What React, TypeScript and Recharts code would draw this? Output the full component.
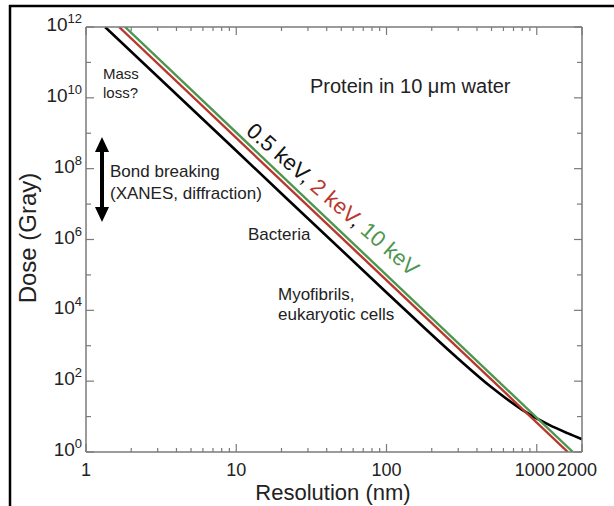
import React from 'react';
import { LineChart, Line, XAxis, YAxis, Customized } from 'recharts';

// ---- data ----
const resolution05keV = [1.34, 10, 100, 300, 500, 800, 1200, 1600, 2000];
const dose05keV = [1e12, 3.2e8, 3.2e4, 430, 67, 15.5, 5.9, 3.4, 2.3];
const resolution2keV = [1.66, 1610];
const dose2keV = [1e12, 1];
const resolution10keV = [1.82, 1740];
const dose10keV = [1e12, 1];

const xMajorTicks = [1, 10, 100, 1000, 2000];
const xMinorTicks = [2, 3, 4, 5, 6, 7, 8, 9, 20, 30, 40, 50, 60, 70, 80, 90, 200, 300, 400, 500, 600, 700, 800, 900];
const yLabelExponents = [0, 2, 4, 6, 8, 10, 12];
const yAllExponents = [0, 1, 2, 3, 4, 5, 6, 7, 8, 9, 10, 11, 12];

const series05 = resolution05keV.map((x, i) => ({ x, y: dose05keV[i] }));
const series2 = resolution2keV.map((x, i) => ({ x, y: dose2keV[i] }));
const series10 = resolution10keV.map((x, i) => ({ x, y: dose10keV[i] }));

const xTicks = [...xMajorTicks, ...xMinorTicks].sort((a, b) => a - b);
const yTicks = yAllExponents.map((e) => Math.pow(10, e));

const FONT = '"Liberation Sans", Arial, Helvetica, sans-serif';
const AXIS = '#7a7a7a';
const TEXT = '#222';
const RED = '#b8382c';
const GREEN = '#4d9650';

const isMajorX = (v: number) => xMajorTicks.includes(v);
const expOf = (v: number) => Math.round(Math.log10(v));
const xLabelShift = (v: number) => (v === 2000 ? -5 : v === 1000 ? -2 : 0);

const BottomTick = (props: any) => {
  const { x, y, payload } = props;
  const v = payload.value;
  const major = isMajorX(v);
  return (
    <g>
      <line x1={x} y1={y} x2={x} y2={y - (major ? 8 : 4)} stroke={AXIS} strokeWidth={1.2} />
      {major && (
        <text x={x + xLabelShift(v)} y={y + 24} textAnchor="middle" fontFamily={FONT} fontSize={18} fill={TEXT}>
          {v}
        </text>
      )}
    </g>
  );
};

const TopTick = (props: any) => {
  const { x, y, payload } = props;
  const major = isMajorX(payload.value);
  return <line x1={x} y1={y} x2={x} y2={y + (major ? 8 : 4)} stroke={AXIS} strokeWidth={1.2} />;
};

const LeftTick = (props: any) => {
  const { x, y, payload } = props;
  const e = expOf(payload.value);
  const labeled = yLabelExponents.includes(e);
  return (
    <g>
      <line x1={x} y1={y} x2={x + (labeled ? 8 : 5)} y2={y} stroke={AXIS} strokeWidth={1.2} />
      {labeled && (
        <text x={x - 4} y={y + 4} textAnchor="end" fontFamily={FONT} fontSize={19} fill={TEXT}>
          10
          <tspan fontSize={13} dy={-8}>{e}</tspan>
        </text>
      )}
    </g>
  );
};

const RightTick = (props: any) => {
  const { x, y, payload } = props;
  const e = expOf(payload.value);
  const labeled = yLabelExponents.includes(e);
  return <line x1={x} y1={y} x2={x - (labeled ? 8 : 5)} y2={y} stroke={AXIS} strokeWidth={1.2} />;
};

const Annotations = () => (
  <g fontFamily={FONT} fill={TEXT}>
    {/* outer frame */}
    <line x1={9} y1={6} x2={614} y2={6} stroke="#000" strokeWidth={2.5} />
    <line x1={10} y1={5} x2={10} y2={506} stroke="#000" strokeWidth={2.5} />
    {/* axis titles */}
    <text x={333} y={500} textAnchor="middle" fontSize={22}>Resolution (nm)</text>
    <text x={0} y={0} transform="translate(36,238) rotate(-90)" textAnchor="middle" fontSize={24}>Dose (Gray)</text>
    {/* annotations */}
    <text x={103} y={79} fontSize={15}>Mass</text>
    <text x={103} y={98} fontSize={15}>loss?</text>
    <text x={310} y={93} fontSize={20}>Protein in 10 μm water</text>
    <text x={110} y={177} fontSize={17}>Bond breaking</text>
    <text x={110} y={199} fontSize={17}>(XANES, diffraction)</text>
    <text x={248} y={240} fontSize={17}>Bacteria</text>
    <text x={278} y={300} fontSize={17}>Myofibrils,</text>
    <text x={278} y={320} fontSize={17}>eukaryotic cells</text>
    {/* double arrow */}
    <line x1={102} y1={148} x2={102} y2={211} stroke="#000" strokeWidth={4} />
    <polygon points="102,137 95,152 109,152" fill="#000" />
    <polygon points="102,222 95,207 109,207" fill="#000" />
    {/* rotated energy label */}
    <text transform="translate(245,133) rotate(41)" fontSize={22}>
      <tspan fill="#111">0.5 keV, </tspan>
      <tspan fill={RED}>2 keV</tspan>
      <tspan fill="#111">, </tspan>
      <tspan fill={GREEN}>10 keV</tspan>
    </text>
  </g>
);

const axisLine = { stroke: AXIS, strokeWidth: 1.5 };

export default function App() {
  return (
    <div style={{ position: 'absolute', left: 0, top: 0, width: 614, height: 506, background: '#fff' }}>
      <LineChart width={614} height={506} margin={{ top: 26, right: 31, bottom: 53, left: 85 }}>
        <XAxis
          xAxisId="b"
          dataKey="x"
          type="number"
          scale="log"
          domain={[1, 2000]}
          allowDataOverflow
          ticks={xTicks}
          interval={0}
          height={1}
          tickSize={0}
          tickMargin={0}
          tick={BottomTick}
          tickLine={false}
          axisLine={axisLine}
        />
        <XAxis
          xAxisId="t"
          orientation="top"
          dataKey="x"
          type="number"
          scale="log"
          domain={[1, 2000]}
          allowDataOverflow
          ticks={xTicks}
          interval={0}
          height={1}
          tickSize={0}
          tickMargin={0}
          tick={TopTick}
          tickLine={false}
          axisLine={axisLine}
        />
        <YAxis
          yAxisId="l"
          dataKey="y"
          type="number"
          scale="log"
          domain={[1, 1e12]}
          allowDataOverflow
          ticks={yTicks}
          interval={0}
          width={1}
          tickSize={0}
          tickMargin={0}
          tick={LeftTick}
          tickLine={false}
          axisLine={axisLine}
        />
        <YAxis
          yAxisId="r"
          orientation="right"
          dataKey="y"
          type="number"
          scale="log"
          domain={[1, 1e12]}
          allowDataOverflow
          ticks={yTicks}
          interval={0}
          width={1}
          tickSize={0}
          tickMargin={0}
          tick={RightTick}
          tickLine={false}
          axisLine={axisLine}
        />
        <Line xAxisId="b" yAxisId="l" data={series05} dataKey="y" type="monotone" stroke="#000" strokeWidth={2.6} dot={false} isAnimationActive={false} />
        <Line xAxisId="b" yAxisId="l" data={series2} dataKey="y" type="linear" stroke={RED} strokeWidth={2.4} dot={false} isAnimationActive={false} />
        <Line xAxisId="b" yAxisId="l" data={series10} dataKey="y" type="linear" stroke={GREEN} strokeWidth={2.4} dot={false} isAnimationActive={false} />
        <Customized component={<Annotations />} />
      </LineChart>
    </div>
  );
}
